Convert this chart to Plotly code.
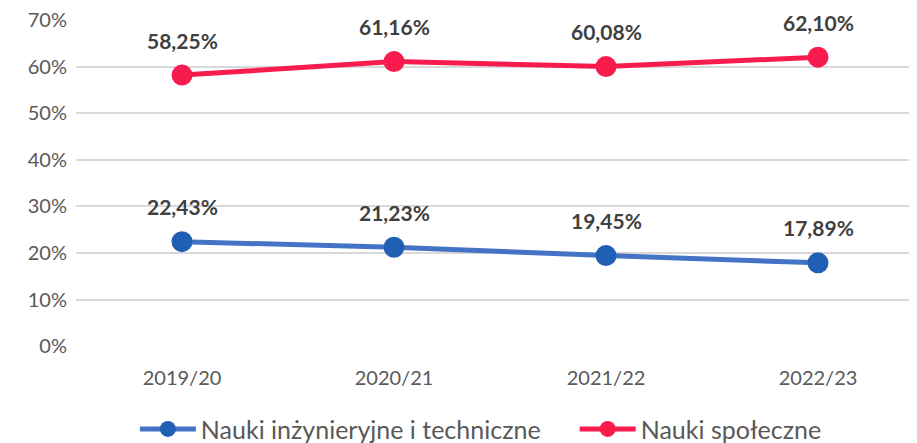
import plotly.graph_objects as go

# Data
years = ['2019/20', '2020/21', '2021/22', '2022/23']
tech = [22.43, 21.23, 19.45, 17.89]
social = [58.25, 61.16, 60.08, 62.10]
yticks = [0, 10, 20, 30, 40, 50, 60, 70]
tech_name = 'Nauki inżynieryjne i techniczne'
social_name = 'Nauki społeczne'


def pl(v):
    return f'{v:.2f}%'.replace('.', ',')


fig = go.Figure()

fig.add_trace(go.Scatter(
    x=years, y=tech, name=tech_name, mode='lines+markers',
    line=dict(color='#4472C4', width=5),
    marker=dict(color='#1F5FB4', size=21, line=dict(width=0)),
    legend='legend',
))
fig.add_trace(go.Scatter(
    x=years, y=social, name=social_name, mode='lines+markers',
    line=dict(color='#F81B4E', width=5),
    marker=dict(color='#F81B4E', size=21, line=dict(width=0)),
    legend='legend2',
))

# data labels above the points
for series in (tech, social):
    for yr, v in zip(years, series):
        fig.add_annotation(
            x=yr, y=v, text='<b>' + pl(v) + '</b>', showarrow=False,
            yshift=35, font=dict(size=21, color='#404040', family='Lato'),
        )

leg = dict(orientation='h', xanchor='left', y=-0.255, yanchor='middle',
           font=dict(size=25, color='#595959'), itemwidth=56)

# page body has an 8px margin, so the figure is 8px smaller than the window
fig.update_layout(
    width=909, height=435,
    margin=dict(l=68, r=0, t=12, b=97, autoexpand=False),
    paper_bgcolor='white', plot_bgcolor='white',
    font=dict(family='Lato', color='#595959', size=20),
    showlegend=True,
    legend=dict(leg, x=0.07),
    legend2=dict(leg, x=0.593),
)
fig.update_xaxes(
    type='category', range=[-0.5, 3.467], showgrid=False, zeroline=False,
    showline=False, ticks='outside', ticklen=14, tickcolor='white',
    tickfont=dict(size=20, color='#595959'),
)
fig.update_yaxes(
    range=[0, 70.1], tickvals=yticks, ticktext=[f'{v}%' for v in yticks],
    ticklabeloverflow='allow',
    showgrid=True, gridcolor='#D9D9D9',
    gridwidth=1.5, zeroline=False, showline=False, ticks='outside',
    ticklen=4, tickcolor='white', tickfont=dict(size=20, color='#595959'),
)

fig.write_html('out.html')
